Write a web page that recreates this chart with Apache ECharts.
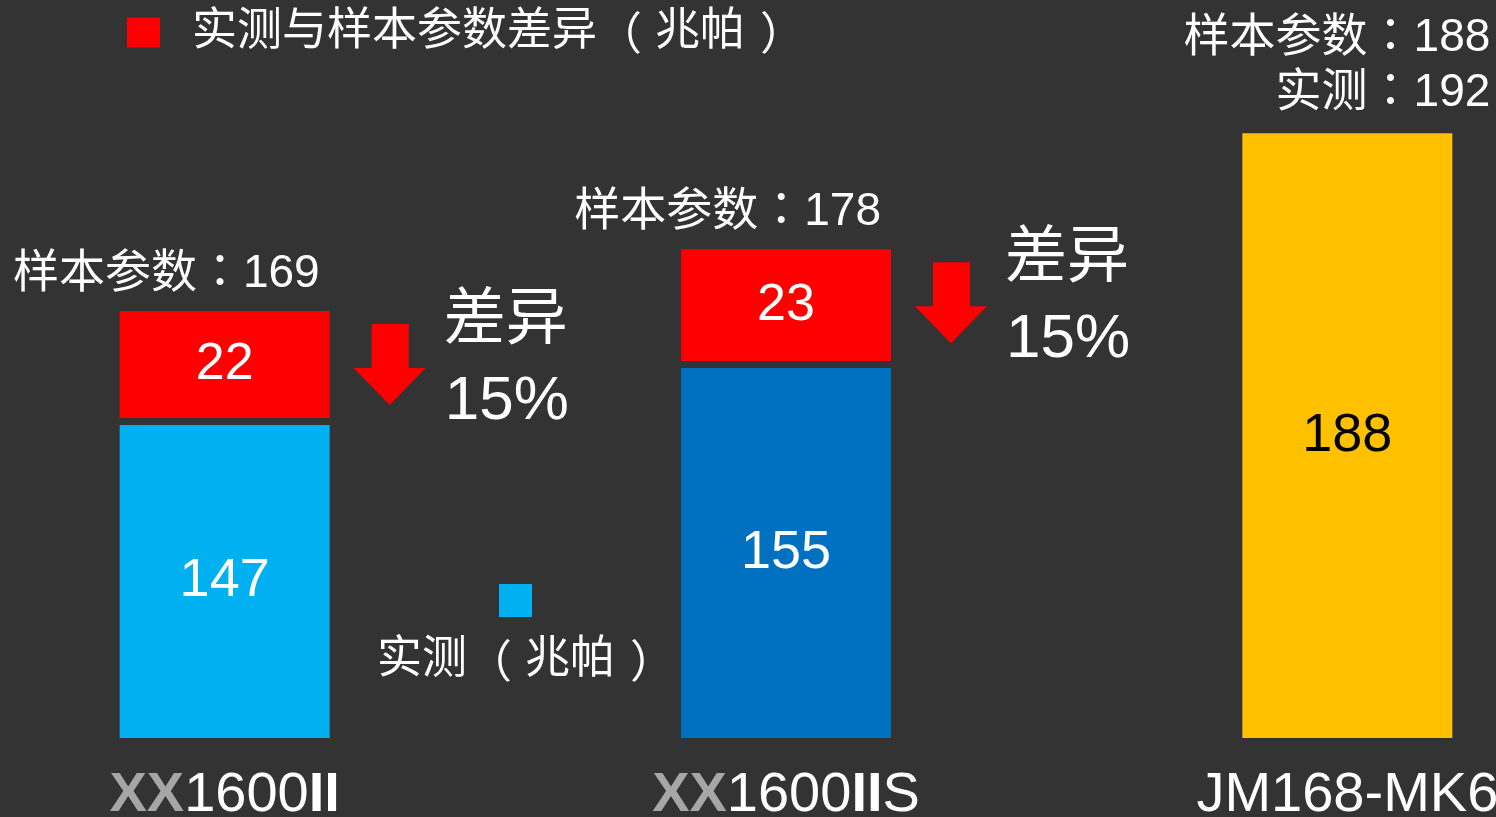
<!DOCTYPE html>
<html>
<head>
<meta charset="utf-8">
<script src="https://cdn.jsdelivr.net/npm/echarts@6/dist/echarts.min.js"></script>
<style>
html,body{margin:0;padding:0;background:#333333;}
#c{width:1496px;height:817px;}
</style>
</head>
<body>
<div id="c"></div>
<script>
// ---- data ----
const categories = ['XX1600II', 'XX1600IIS', 'JM168-MK6'];
const barValues = [147, 155, 188];          // 实测 bars (and JM168-MK6 sample bar)
const diffValues = [22, 23];                 // 实测与样本参数差异
const sampleParams = [169, 178, 188];        // 样本参数
const jmMeasured = 192;                      // JM168-MK6 实测
const diffPercents = [15, 15];               // 差异 %
const legendDiffName = '实测与样本参数差异（兆帕）';
const legendMeasuredName = '实测（兆帕）';

// ---- styles ----
const FONT = "'Liberation Sans', 'Noto Sans CJK TC', 'Noto Sans CJK SC', sans-serif";
const PFONT = "'Noto Sans CJK KR', 'Noto Sans CJK TC', sans-serif";
const BAR_W = 210;
const GAP = 7;
const barColors = ['#00B0F0', '#0070C0', '#FFC000'];
const barLabelColors = ['#FFFFFF', '#FFFFFF', '#000000'];
const RED = '#FF0000';

// wrap fullwidth parentheses into rich tokens
function richParen(s) {
  return s.split(/([（）])/).filter(t => t).map(t =>
    t === '（' ? '{o|' + t + '}' : (t === '）' ? '{c|' + t + '}' : '{a|' + t + '}')
  ).join('');
}
function parenRich(colorKey) {
  const base = { fontSize: 45 };
  base[colorKey] = '#FFFFFF';
  return {
    a: Object.assign({ fontFamily: FONT }, base),
    o: Object.assign({ fontFamily: PFONT, padding: [0, 13, 0, 0] }, base),
    c: Object.assign({ fontFamily: PFONT, padding: [0, 0, 0, 15] }, base)
  };
}

const chart = echarts.init(document.getElementById('c'));

const barData = barValues.map((v, i) => ({
  value: v,
  itemStyle: { color: barColors[i] },
  label: { color: barLabelColors[i] }
}));

const diffRows = diffValues.map((d, i) => [i, d, barValues[i], sampleParams[i], diffPercents[i]]);
const jmRows = [[2, barValues[2], sampleParams[2], jmMeasured]];

function renderDiff(params, api) {
  const i = api.value(0), diff = api.value(1), base = api.value(2), sample = api.value(3), pct = api.value(4);
  const cx = api.coord([i, 0])[0];
  const h = api.size([0, diff])[1];
  const blueTop = chart.convertToPixel({ yAxisIndex: 0 }, base);
  const bottom = blueTop - GAP;
  const top = bottom - h;
  const left = cx - BAR_W / 2, right = cx + BAR_W / 2;
  const ax = right + 24, at = top + 13;
  return {
    type: 'group',
    children: [
      { type: 'rect', shape: { x: left, y: top, width: BAR_W, height: h }, style: { fill: RED } },
      { type: 'text', style: { text: String(diff), x: cx, y: top + h / 2, fill: '#FFFFFF', fontSize: 52, fontFamily: FONT, align: 'center', verticalAlign: 'middle' } },
      { type: 'text', style: { text: '样本参数：' + sample, x: right - 10, y: top - 37, fill: '#FFFFFF', fontSize: 46, fontFamily: FONT, align: 'right', verticalAlign: 'middle' } },
      { type: 'polygon', shape: { points: [
          [ax + 18, at], [ax + 55, at], [ax + 55, at + 44], [ax + 72, at + 44],
          [ax + 36, at + 81], [ax, at + 44], [ax + 18, at + 44]
        ] }, style: { fill: RED } },
      { type: 'text', style: { text: '差异', x: right + 114, y: top + 11, fill: '#FFFFFF', fontSize: 62, fontFamily: FONT, align: 'left', verticalAlign: 'middle' } },
      { type: 'text', style: { text: pct + '%', x: right + 115, y: top + 91, fill: '#FFFFFF', fontSize: 62, fontFamily: FONT, align: 'left', verticalAlign: 'middle' } }
    ]
  };
}

function renderJm(params, api) {
  const p = api.coord([api.value(0), api.value(1)]);
  const right = p[0] + BAR_W / 2;
  return {
    type: 'group',
    children: [
      { type: 'text', style: { text: '样本参数：' + api.value(2), x: right + 38, y: p[1] - 95, fill: '#FFFFFF', fontSize: 46, fontFamily: FONT, align: 'right', verticalAlign: 'middle' } },
      { type: 'text', style: { text: '实测：' + api.value(3), x: right + 38, y: p[1] - 40, fill: '#FFFFFF', fontSize: 46, fontFamily: FONT, align: 'right', verticalAlign: 'middle' } }
    ]
  };
}

const option = {
  backgroundColor: '#333333',
  animation: false,
  textStyle: { fontFamily: FONT },
  legend: {
    data: [{ name: legendDiffName, icon: 'rect' }],
    left: 122, top: 5,
    itemWidth: 33, itemHeight: 30,
    selectedMode: false,
    formatter: function (name) { return richParen(name); },
    textStyle: {
      color: '#FFFFFF', fontSize: 45, fontFamily: FONT, padding: [0, 0, 0, 27],
      rich: parenRich('color')
    }
  },
  grid: { left: -56, width: 1684, top: 48, bottom: 79, containLabel: false, outerBoundsMode: 'none' },
  xAxis: {
    type: 'category',
    data: categories,
    axisLine: { show: false },
    axisTick: { show: false },
    axisLabel: {
      margin: 30,
      interval: 0,
      formatter: function (v) {
        if (v.indexOf('XX') === 0) {
          const m = v.slice(2).match(/^(\d+)(II)(.*)$/);
          if (m) return '{g|XX}{n|' + m[1] + '}{b|' + m[2] + '}' + (m[3] ? '{n|' + m[3] + '}' : '');
        }
        return '{n|' + v + '}';
      },
      rich: {
        g: { color: '#A6A6A6', fontWeight: 'bold', fontSize: 56, fontFamily: FONT },
        n: { color: '#FFFFFF', fontSize: 56, fontFamily: FONT },
        b: { color: '#FFFFFF', fontWeight: 'bold', fontSize: 56, fontFamily: FONT }
      }
    }
  },
  yAxis: [
    { type: 'value', min: 103, max: 200, show: false, splitLine: { show: false } },
    { type: 'value', min: 0, max: 142, show: false, splitLine: { show: false } }
  ],
  graphic: [
    { type: 'rect', left: 499, top: 584, shape: { width: 33, height: 33 }, style: { fill: '#00B0F0' } },
    { type: 'text', left: 377, top: 638, style: {
        text: richParen(legendMeasuredName), fill: '#FFFFFF', fontSize: 45, fontFamily: FONT,
        rich: parenRich('fill')
      } }
  ],
  series: [
    {
      name: legendMeasuredName,
      type: 'bar',
      yAxisIndex: 0,
      barWidth: BAR_W,
      data: barData,
      itemStyle: { color: '#00B0F0' },
      label: { show: true, position: 'inside', fontSize: 54, fontFamily: FONT }
    },
    {
      name: legendDiffName,
      type: 'custom',
      yAxisIndex: 1,
      itemStyle: { color: RED },
      encode: { x: 0, y: 1 },
      data: diffRows,
      renderItem: renderDiff
    },
    {
      name: 'jm',
      type: 'custom',
      yAxisIndex: 0,
      encode: { x: 0, y: 1 },
      data: jmRows,
      renderItem: renderJm
    }
  ]
};
chart.setOption(option);
</script>
</body>
</html>
